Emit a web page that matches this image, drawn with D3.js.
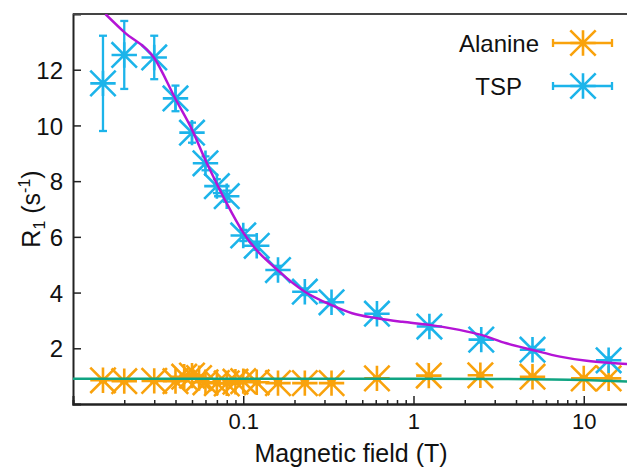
<!DOCTYPE html>
<html><head><meta charset="utf-8">
<script src="https://cdn.jsdelivr.net/npm/d3@7"></script>
<style>body{margin:0;background:#fff}svg{display:block}text{font-family:"Liberation Sans",Arial,sans-serif;fill:#111}</style>
</head><body><svg id="c" width="627" height="467"></svg>
<script>
// ---- data ----
const tspField = [0.015,0.02,0.03,0.04,0.05,0.06,0.07,0.08,0.1,0.12,0.16,0.23,0.33,0.61,1.24,2.5,5.0,14.0];
const tspR1    = [11.51,12.53,12.44,10.97,9.74,8.64,7.82,7.46,6.05,5.68,4.81,4.03,3.65,3.24,2.78,2.31,1.95,1.57];
const tspErr   = [1.71,1.22,0.78,0.46,0.36,0.25,0.25,0.2,0.2,0.15,0.15,0.12,0.1,0.1,0.1,0.1,0.1,0.1];
const alaField = [0.015,0.02,0.03,0.04,0.045,0.05,0.055,0.06,0.07,0.08,0.09,0.1,0.12,0.16,0.23,0.33,0.61,1.23,2.47,5.0,10,14.0];
const alaR1    = [0.85,0.82,0.83,0.82,0.98,1.02,0.93,0.78,0.75,0.74,0.8,0.82,0.78,0.75,0.75,0.75,0.92,1.02,1.03,0.98,0.92,0.92];
const alaErr   = [0.05,0.05,0.05,0.05,0.05,0.05,0.05,0.05,0.05,0.05,0.05,0.05,0.05,0.05,0.05,0.05,0.05,0.05,0.05,0.05,0.05,0.05];
const tspFitField = [0.0155,0.02,0.03,0.04,0.05,0.06,0.07,0.08,0.1,0.163,0.23,0.33,0.436,0.61,0.861,1.24,1.86,2.5,3.51,5.0,7.25,10.4,14.0,18.0,20];
const tspFitR1    = [14.0,13.35,12.42,10.95,9.85,8.75,7.9,7.2,6.15,4.75,4.03,3.55,3.26,3.08,2.95,2.84,2.66,2.48,2.18,1.94,1.70,1.55,1.48,1.44,1.43];
const alaFitField = [0.01,0.1,1,3,10,20];
const alaFitR1    = [0.91,0.91,0.91,0.9,0.86,0.8];
const xMajor = [0.1,1,10];
const xMajorLabels = ["0.1","1","10"];
const xMinor = [0.02,0.03,0.04,0.05,0.06,0.07,0.08,0.09,0.2,0.3,0.4,0.5,0.6,0.7,0.8,0.9,2,3,4,5,6,7,8,9];
const yTicks = [2,4,6,8,10,12];
const seriesNames = ["Alanine","TSP"];

// ---- layout ----
const L = 73, T = 14, B = 404, R = 635;
const cyan = "#1cb4ea", orange = "#f9a20c", magenta = "#b414d6", green = "#10a482";
const svg = d3.select("#c");
const x = d3.scaleLog().domain([0.01, 20]).range([L, R]);
const y = d3.scaleLinear().domain([0, 14]).range([B, T]);

svg.append("defs").append("clipPath").attr("id","clip")
  .append("rect").attr("x",L).attr("y",T).attr("width",R-L).attr("height",B-T);

// axes
const gx = svg.append("g").attr("transform",`translate(0,${B})`)
  .call(d3.axisBottom(x).tickValues(xMajor).tickFormat((d,i)=>xMajorLabels[i]).tickSize(-8).tickPadding(9));
const gxm = svg.append("g").attr("transform",`translate(0,${B})`)
  .call(d3.axisBottom(x).tickValues(xMinor).tickFormat("").tickSize(-4));
const gy = svg.append("g").attr("transform",`translate(${L},0)`)
  .call(d3.axisLeft(y).tickValues(yTicks).tickSize(-8).tickPadding(10));
[gx,gxm,gy].forEach(g=>{
  g.select(".domain").attr("stroke","#222").attr("stroke-width",2);
  g.selectAll(".tick line").attr("stroke","#222").attr("stroke-width",1.5);
  g.selectAll(".tick text").style("font-size","24px").attr("fill","#111")
    .style("font-family",'"Liberation Sans",Arial,sans-serif');
});
gx.selectAll(".tick text").style("font-size","22px").attr("dy","0.71em");
gy.selectAll(".tick text").attr("dy","0.36em");
svg.append("line").attr("x1",L).attr("x2",R).attr("y1",T).attr("y2",T).attr("stroke","#444").attr("stroke-width",2);

// star symbol
const S = 12.7;
const starPath = `M${-S},0H${S}M0,${-S}V${S}M${-S},${-S}L${S},${S}M${-S},${S}L${S},${-S}`;

function drawSeries(fields, vals, errs, color) {
  const g = svg.append("g").attr("clip-path","url(#clip)");
  const data = fields.map((f,i)=>({f, v: vals[i], e: errs[i]}));
  const eb = g.selectAll(".eb").data(data).enter().append("g").attr("stroke",color).attr("stroke-width",2.3);
  eb.append("line").attr("x1",d=>x(d.f)).attr("x2",d=>x(d.f)).attr("y1",d=>y(d.v-d.e)).attr("y2",d=>y(d.v+d.e));
  eb.append("line").attr("x1",d=>x(d.f)-4).attr("x2",d=>x(d.f)+4).attr("y1",d=>y(d.v-d.e)).attr("y2",d=>y(d.v-d.e));
  eb.append("line").attr("x1",d=>x(d.f)-4).attr("x2",d=>x(d.f)+4).attr("y1",d=>y(d.v+d.e)).attr("y2",d=>y(d.v+d.e));
  g.selectAll(".st").data(data).enter().append("path")
    .attr("d",starPath).attr("transform",d=>`translate(${x(d.f)},${y(d.v)})`)
    .attr("fill","none").attr("stroke",color).attr("stroke-width",2.6);
}
drawSeries(alaField, alaR1, alaErr, orange);
drawSeries(tspField, tspR1, tspErr, cyan);

// fits
const line = d3.line().x(d=>x(d[0])).y(d=>y(d[1])).curve(d3.curveMonotoneX);
const fitG = svg.append("g").attr("clip-path","url(#clip)");
fitG.append("path").datum(alaFitField.map((f,i)=>[f,alaFitR1[i]])).attr("d",line)
  .attr("fill","none").attr("stroke",green).attr("stroke-width",2.5);
fitG.append("path").datum(tspFitField.map((f,i)=>[f,tspFitR1[i]])).attr("d",line)
  .attr("fill","none").attr("stroke",magenta).attr("stroke-width",2.5);

// legend
const legY = [43, 86], legTextX = [539, 522], legColors = [orange, cyan];
seriesNames.forEach((n,i)=>{
  svg.append("text").attr("x",legTextX[i]).attr("y",legY[i]).attr("dy","0.36em")
    .attr("text-anchor","end").style("font-size","24px").text(n);
  const g = svg.append("g").attr("stroke",legColors[i]).attr("stroke-width",2.3).attr("fill","none");
  g.append("line").attr("x1",553).attr("x2",612).attr("y1",legY[i]).attr("y2",legY[i]);
  g.append("line").attr("x1",553).attr("x2",553).attr("y1",legY[i]-4).attr("y2",legY[i]+4);
  g.append("line").attr("x1",612).attr("x2",612).attr("y1",legY[i]-4).attr("y2",legY[i]+4);
  g.append("path").attr("d",starPath).attr("transform",`translate(583,${legY[i]})`).attr("stroke-width",2.6);
});

// axis titles
svg.append("text").attr("x",(L+R)/2-3).attr("y",462).attr("text-anchor","middle")
  .style("font-size","25px").text("Magnetic field (T)");
const yl = svg.append("text").attr("transform","translate(40,209) rotate(-90)")
  .attr("text-anchor","middle").style("font-size","25px");
yl.append("tspan").text("R");
yl.append("tspan").text("1").style("font-size","16px").attr("dy","5");
yl.append("tspan").text(" (s").attr("dy","-5");
yl.append("tspan").text("-1").style("font-size","16px").attr("dy","-10");
yl.append("tspan").text(")").attr("dy","10");
</script></body></html>
